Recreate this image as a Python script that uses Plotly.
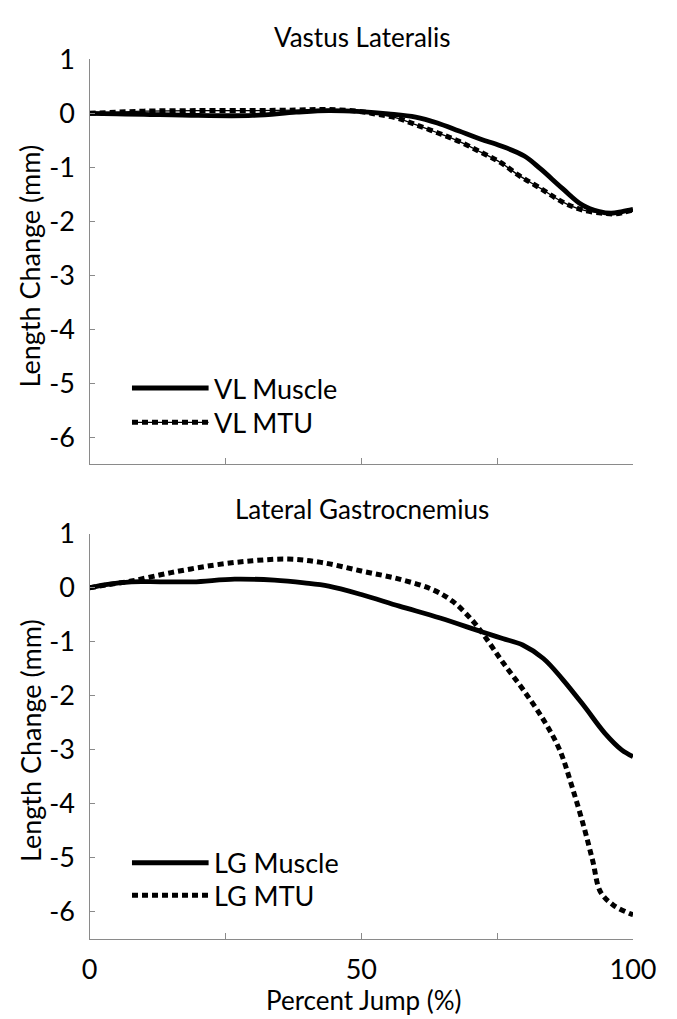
import plotly.graph_objects as go

# ---------------- data ----------------
vl_muscle_x = [0, 5, 10, 20, 30, 38, 44, 50, 55, 60, 64, 68, 72, 75.6, 80, 83, 87, 90.7, 93.8, 96, 98, 100]
vl_muscle_y = [0, -0.01, -0.02, -0.04, -0.04, 0.02, 0.05, 0.03, -0.01, -0.07, -0.18, -0.33, -0.48, -0.6, -0.79, -1.03, -1.39, -1.70, -1.82, -1.85, -1.82, -1.78]

vl_mtu_x = [0, 5, 10, 20, 30, 38, 44, 50, 53, 56.6, 60, 64, 68, 72, 75.6, 79, 83, 87, 90.7, 94.5, 96.8, 100]
vl_mtu_y = [0, 0.02, 0.04, 0.05, 0.05, 0.06, 0.07, 0.03, -0.02, -0.09, -0.21, -0.36, -0.52, -0.72, -0.91, -1.15, -1.39, -1.64, -1.79, -1.85, -1.86, -1.79]

lg_muscle_x = [0, 3, 7.7, 13, 19, 26.7, 34, 39.5, 44, 50, 57, 64.5, 72, 76, 79.7, 83.5, 87, 91, 94.8, 97.9, 100]
lg_muscle_y = [0, 0.06, 0.11, 0.11, 0.11, 0.16, 0.14, 0.09, 0.03, -0.125, -0.34, -0.56, -0.81, -0.94, -1.06, -1.31, -1.69, -2.19, -2.69, -3.0, -3.125]

lg_mtu_x = [0, 3, 7.7, 15, 23, 30, 36.5, 42.6, 50, 57, 63, 66.8, 70.6, 73, 76, 79.7, 83.5, 86.5, 88.8, 91, 92.6, 94, 96.4, 99.4, 100]
lg_mtu_y = [0, 0.05, 0.125, 0.28, 0.42, 0.50, 0.53, 0.47, 0.31, 0.16, -0.03, -0.25, -0.625, -0.94, -1.375, -1.875, -2.44, -3.0, -3.69, -4.44, -5.06, -5.625, -5.875, -6.03, -6.05]

x_tick_vals = [0, 25, 50, 75, 100]
x_tick_text = ["0", "", "50", "", "100"]
y_tick_vals = [1, 0, -1, -2, -3, -4, -5, -6]
y_tick_text = ["1", "0", "-1", "-2", "-3", "-4", "-5", "-6"]

titles = ["Vastus Lateralis", "Lateral Gastrocnemius"]
legend_names = [["VL Muscle", "VL MTU"], ["LG Muscle", "LG MTU"]]
y_title = "Length Change (mm)"
x_title = "Percent Jump (%)"

# ---------------- layout constants ----------------
W, H = 677, 1019
FONT = "Lato"
FS = 26
FS_TICK = 27
FS_LEG = 27
AX_COL = "#8a8a8a"
DOT = "6px,4px"
LW = 4.8
DW = 5

def py(p):  # pixel from top -> paper fraction
    return 1 - p / H

fig = go.Figure()

# top panel
fig.add_trace(go.Scatter(x=vl_mtu_x, y=vl_mtu_y, mode="lines", line=dict(color="black", width=1.3, shape="spline"),
                         xaxis="x", yaxis="y", showlegend=False))
fig.add_trace(go.Scatter(x=vl_mtu_x, y=vl_mtu_y, mode="lines", line=dict(color="black", width=DW, dash=DOT, shape="spline"),
                         xaxis="x", yaxis="y", showlegend=False))
fig.add_trace(go.Scatter(x=vl_muscle_x, y=vl_muscle_y, mode="lines", line=dict(color="black", width=LW, shape="spline"),
                         xaxis="x", yaxis="y", showlegend=False))
# bottom panel
fig.add_trace(go.Scatter(x=lg_muscle_x, y=lg_muscle_y, mode="lines", line=dict(color="black", width=LW, shape="spline"),
                         xaxis="x2", yaxis="y2", showlegend=False))
fig.add_trace(go.Scatter(x=lg_mtu_x, y=lg_mtu_y, mode="lines", line=dict(color="black", width=DW, dash=DOT, shape="spline"),
                         xaxis="x2", yaxis="y2", showlegend=False))

xdom = [85.5 / W, 655 / W]
ydom_top = [py(454.5), py(42)]
ydom_bot = [py(937.5), py(525)]

common_x = dict(range=[0, 100], tickvals=x_tick_vals, ticktext=x_tick_text, ticks="inside", ticklen=6,
                tickcolor=AX_COL, showline=True, linecolor=AX_COL, linewidth=1.3, showgrid=False, zeroline=False,
                tickfont=dict(family=FONT, size=FS_TICK, color="black"), domain=xdom, fixedrange=True,
                ticklabeloverflow="allow")
common_y = dict(range=[-6.5, 1], tickvals=y_tick_vals, ticktext=y_tick_text, ticks="inside", ticklen=5,
                tickcolor=AX_COL, showline=True, linecolor=AX_COL, linewidth=1.3, showgrid=False, zeroline=False,
                tickfont=dict(family=FONT, size=FS_TICK, color="black"), ticklabelstandoff=8, fixedrange=True)

fig.update_layout(
    width=W, height=H, margin=dict(l=0, r=0, t=0, b=0),
    paper_bgcolor="white", plot_bgcolor="white", showlegend=False,
    xaxis=dict(common_x, anchor="y", showticklabels=False),
    yaxis=dict(common_y, domain=ydom_top, anchor="x"),
    xaxis2=dict(common_x, anchor="y2", ticklabelstandoff=7),
    yaxis2=dict(common_y, domain=ydom_bot, anchor="x2"),
)

annotations = []
# panel titles
for t, ypix in zip(titles, [19, 500]):
    annotations.append(dict(text=t, x=371 / W, y=py(ypix), xref="paper", yref="paper", showarrow=False,
                            xanchor="center", yanchor="middle", font=dict(family=FONT, size=FS, color="black")))
# y titles
for ypix in [252, 735]:
    annotations.append(dict(text=y_title, x=23 / W, y=py(ypix), xref="paper", yref="paper", showarrow=False,
                            textangle=-90, xanchor="center", yanchor="middle",
                            font=dict(family=FONT, size=27, color="black")))
# x title
annotations.append(dict(text=x_title, x=373 / W, y=py(1000), xref="paper", yref="paper", showarrow=False,
                        xanchor="center", yanchor="middle", font=dict(family=FONT, size=FS, color="black")))

# legends
shapes = []
leg_pos = [("x", "y", -5.085, -5.72), ("x2", "y2", -5.09, -5.69)]
for (xr, yr, y1, y2), names in zip(leg_pos, legend_names):
    shapes.append(dict(type="line", xref=xr, yref=yr, x0=7.8, x1=21.9, y0=y1, y1=y1,
                       line=dict(color="black", width=LW + 0.4)))
    if xr == "x":
        shapes.append(dict(type="line", xref=xr, yref=yr, x0=7.8, x1=21.9, y0=y2, y1=y2,
                           line=dict(color="black", width=1.3)))
    shapes.append(dict(type="line", xref=xr, yref=yr, x0=7.8, x1=21.9, y0=y2, y1=y2,
                       line=dict(color="black", width=DW, dash=DOT)))
    for nm, yy in zip(names, [y1, y2]):
        annotations.append(dict(text=nm, x=22.6, y=yy, xref=xr, yref=yr, showarrow=False,
                                xanchor="left", yanchor="middle", font=dict(family=FONT, size=FS_LEG, color="black")))

fig.update_layout(annotations=annotations, shapes=shapes)
fig.write_html("out.html")
